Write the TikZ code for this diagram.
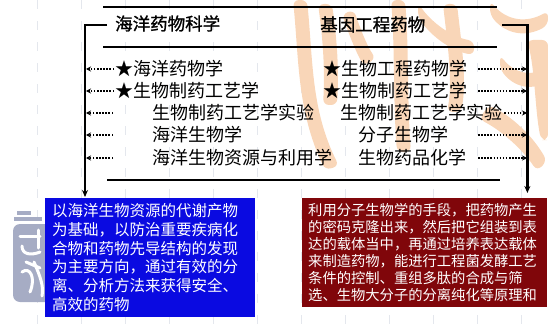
\documentclass[tikz,border=0pt]{standalone}
\usepackage{fontspec}
\newfontfamily\cjk{Noto Sans CJK SC}
\newfontfamily\cjkhead[FakeBold=1.2]{Noto Sans CJK SC}
\usetikzlibrary{arrows.meta}
\definecolor{boxblue}{RGB}{10,10,225}
\definecolor{boxred}{RGB}{128,6,10}
\definecolor{seal}{RGB}{166,172,196}
\definecolor{brush}{RGB}{249,214,184}
\definecolor{guide}{RGB}{228,231,237}

\begin{document}
\begin{tikzpicture}[x=1pt,y=-1pt,
  rule/.style={line width=2.6pt},
  bracket/.style={line width=2.2pt,-{Stealth[length=7pt,width=6pt]}},
  lead/.style={dash pattern=on 1.5pt off 1.6pt,line width=1.5pt,
    -{Stealth[length=5pt,width=5pt]}},
  title/.style={font=\cjkhead\fontsize{17.5}{18}\selectfont,anchor=west,inner sep=0pt},
  item/.style={font=\cjk\fontsize{18}{18}\selectfont,anchor=west,inner sep=0pt},
  brushfill/.style={fill=brush,rounded corners=6pt},
  sealcut/.style={white,line width=3pt,line cap=round},
  textbox/.style={anchor=north west,text=white,align=left,inner xsep=0pt,inner ysep=0pt}]

\useasboundingbox (0,0) rectangle (548,334);

% faint dashed guides in the background
\foreach \gx in {37,81,125,169,213,257,301,345,389,433,477,521}
  \draw[guide,line width=1pt,dash pattern=on 9pt off 12pt] (\gx,0) -- (\gx,334);

% brush-stroke emblem, upper right (each stroke a filled band)
\path[brushfill] (293,0) .. controls (299,60) and (297,110) .. (325,170) -- (339,166) .. controls (311,110) and (313,60) .. (307,0) -- cycle;
\path[brushfill] (318,4) .. controls (323,40) and (325,70) .. (323,105) -- (337,105) .. controls (339,70) and (337,40) .. (332,4) -- cycle;
\path[brushfill] (342,14) .. controls (348,32) and (356,52) .. (364,66) -- (376,58) .. controls (368,48) and (360,28) .. (354,10) -- cycle;
\path[brushfill] (391,0) .. controls (395,50) and (393,100) .. (397,152) -- (411,152) .. controls (407,100) and (409,50) .. (405,0) -- cycle;
\path[brushfill] (418,3) .. controls (432,23) and (452,37) .. (474,41) -- (474,55) .. controls (452,51) and (432,37) .. (418,17) -- cycle;
\path[brushfill] (443,4) .. controls (447,40) and (453,80) .. (447,112) -- (461,112) .. controls (467,80) and (461,40) .. (457,4) -- cycle;
\path[brushfill] (490,1) .. controls (507,21) and (527,23) .. (548,11) -- (548,25) .. controls (527,37) and (507,35) .. (490,15) -- cycle;
\path[brushfill] (500,55) .. controls (514,73) and (532,77) .. (548,65) -- (548,79) .. controls (532,91) and (514,87) .. (500,69) -- cycle;
\path[brushfill] (489,105) .. controls (512,117) and (532,135) .. (547,161) -- (537,171) .. controls (522,149) and (502,131) .. (479,119) -- cycle;
\path[brushfill] (527,40) .. controls (535,70) and (535,110) .. (541,140) -- (548,140) -- (548,40) -- cycle;

% seal emblem, lower left
\fill[seal] (17,211) rectangle (31,215);
\fill[seal] (14,217) rectangle (42,221);
\fill[seal,rounded corners=7pt] (13,224) rectangle (52,302);
\draw[sealcut] (20,236) -- (40,236);
\draw[sealcut] (38,230) -- (38,248);
\draw[sealcut] (22,246) .. controls (22,254) and (30,256) .. (40,252);
\draw[sealcut] (22,272) .. controls (30,266) and (36,278) .. (30,292);
\draw[sealcut] (34,262) .. controls (40,276) and (44,286) .. (42,296);
\draw[sealcut] (26,262) -- (40,268);

% frame rules
\draw[rule] (103,7) -- (497,7);
\draw[rule] (103,47) -- (497,47);
\draw[rule] (107,180) -- (500,180);

% headings
\node[title] (lt) at (115,23.5) {海洋药物科学};
\node[title] (rt) at (320,24.5) {基因工程药物};

% left column
\node[item] (l1) at (115,69) {★海洋药物学};
\node[item] (l2) at (115,91) {★生物制药工艺学};
\node[item] (l3) at (152,113) {生物制药工艺学实验};
\node[item] (l4) at (152,135) {海洋生物学};
\node[item] (l5) at (152,158) {海洋生物资源与利用学};

% right column
\node[item] (r1) at (323,69) {★生物工程药物学};
\node[item] (r2) at (323,91) {★生物制药工艺学};
\node[item] (r3) at (340,113) {生物制药工艺学实验};
\node[item] (r4) at (358,135) {分子生物学};
\node[item] (r5) at (358,158) {生物药品化学};

% description boxes
\node[textbox,fill=boxblue,minimum width=210pt,minimum height=119pt,
      text width=196pt,inner xsep=7pt,
      font=\cjk\fontsize{15.5}{18.8}\selectfont] (blue) at (45,198)
  {以海洋生物资源的代谢产物\\为基础，以防治重要疾病化\\合物和药物先导结构的发现\\为主要方向，通过有效的分\\离、分析方法来获得安全、\\高效的药物};
\node[textbox,fill=boxred,minimum width=245pt,minimum height=109pt,
      text width=233pt,inner xsep=6pt,
      font=\cjk\fontsize{14.3}{17}\selectfont] (red) at (302,198)
  {利用分子生物学的手段，把药物产生\\的密码克隆出来，然后把它组装到表\\达的载体当中，再通过培养表达载体\\来制造药物，能进行工程菌发酵工艺\\条件的控制、重组多肽的合成与筛\\选、生物大分子的分离纯化等原理和};

% bracket rails
\coordinate (lbar) at (86,0);
\coordinate (lgo) at (113,0);
\coordinate (rbar) at (527,0);
\coordinate (rgo) at (478,0);

\draw[bracket,shorten >=1pt] ([xshift=-8pt,yshift=-1.5pt]lt.west) -| ([xshift=40pt]blue.north west);
\draw[bracket,shorten >=5pt] ([yshift=-0.5pt]rt.east -| 502,0) -| ([xshift=-20pt]red.north east);

% dotted leaders into the rails
\draw[lead] ([xshift=-1pt]l1.west) -- (l1.west -| lbar);
\draw[lead] ([xshift=-1pt]l2.west) -- (l2.west -| lbar);
\draw[lead] (l3.west -| lgo) -- (l3.west -| lbar);
\draw[lead] (l4.west -| lgo) -- (l4.west -| lbar);
\draw[lead] (l5.west -| lgo) -- (l5.west -| lbar);

\draw[lead] (r1.east -| rgo) -- (r1.east -| rbar);
\draw[lead] (r2.east -| rgo) -- (r2.east -| rbar);
\draw[lead] ([xshift=2pt]r3.east) -- (r3.east -| rbar);
\draw[lead] (r4.east -| rgo) -- (r4.east -| rbar);
\draw[lead] (r5.east -| rgo) -- (r5.east -| rbar);

\end{tikzpicture}
\end{document}
